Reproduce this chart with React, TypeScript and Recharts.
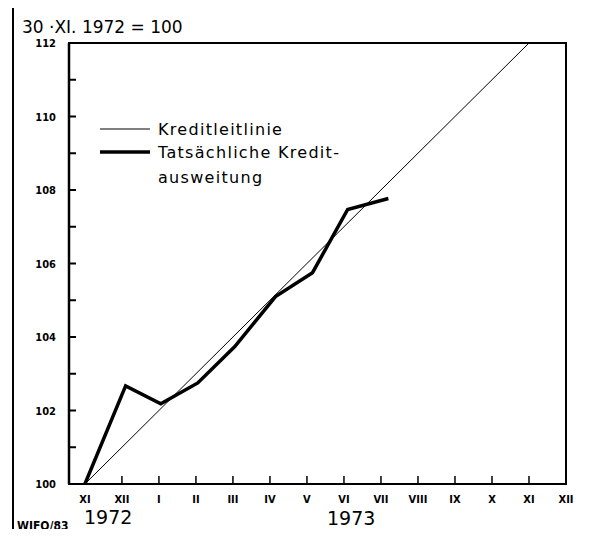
import React from "react";
import { LineChart, Line, XAxis, YAxis, ReferenceArea, Legend } from "recharts";

// month axis, XI 1972 .. XII 1973
const monthTicks = [0, 1, 2, 3, 4, 5, 6, 7, 8, 9, 10, 11, 12, 13];
const monthLabels = ["XI", "XII", "I", "II", "III", "IV", "V", "VI", "VII", "VIII", "IX", "X", "XI", "XII"];
const yTicks = [100, 101, 102, 103, 104, 105, 106, 107, 108, 109, 110, 111, 112];

// Kreditleitlinie (30.XI.1972 = 100 -> 112 a year later)
const guideX = [0, 12];
const guideY = [100, 112];

// Tatsächliche Kreditausweitung
const actualX = [0, 1.1, 2.05, 3.05, 4.05, 5.15, 6.15, 7.1, 8.2];
const actualY = [100, 102.67, 102.18, 102.75, 103.74, 105.1, 105.75, 107.47, 107.77];

const seriesNames = ["Kreditleitlinie", "Tatsächliche Kredit-ausweitung"];
const legendLines = [["Kreditleitlinie"], ["Tatsächliche Kredit-", "ausweitung"]];

const guideData = guideX.map((x, i) => ({ x, v: guideY[i] }));
const actualData = actualX.map((x, i) => ({ x, v: actualY[i] }));

const Y_MARGIN = 13;
const X_MARGIN = 10;
const tickFont = "'DejaVu Sans Condensed', 'DejaVu Sans', sans-serif";

// tick marks point into the plot, labels sit outside
const YTick = (props: any) => {
  const { x, y, payload } = props;
  const ax = x + Y_MARGIN;
  return (
    <g>
      <line x1={ax} x2={ax + 7} y1={y} y2={y} stroke="#000" strokeWidth={2} />
      {payload.value % 2 === 0 && (
        <text x={x} y={y} dy={4} textAnchor="end" fontSize={11} fontWeight="bold" fontFamily={tickFont} fill="#000">
          {payload.value}
        </text>
      )}
    </g>
  );
};

const XTick = (props: any) => {
  const { x, y, payload, index } = props;
  const ay = y - X_MARGIN;
  return (
    <g>
      {index > 0 && index < monthTicks.length - 1 && (
        <line x1={x} x2={x} y1={ay} y2={ay - 8} stroke="#000" strokeWidth={1.5} />
      )}
      <text x={x} y={y} dy={9} textAnchor="middle" fontSize={11} fontWeight="bold" fontFamily={tickFont} fill="#000">
        {monthLabels[payload.value]}
      </text>
    </g>
  );
};

const LegendBox = () => (
  <svg width={260} height={80}>
    {legendLines.map((lines, i) => (
      <g key={i}>
        <line x1={0} x2={50} y1={10 + i * 23} y2={10 + i * 23} stroke="#000" strokeWidth={i === 0 ? 1 : 3.5} />
        {lines.map((t, j) => (
          <text
            key={j}
            x={58}
            y={16 + i * 23 + j * 25}
            fontSize={16}
            letterSpacing={1.3}
            fontFamily="'DejaVu Sans', sans-serif"
            fill="#000"
          >
            {t}
          </text>
        ))}
      </g>
    ))}
  </svg>
);

export default function App() {
  return (
    <div style={{ position: "relative", width: 596, height: 537, margin: -8, background: "#fff" }}>
      <LineChart width={596} height={537} margin={{ top: 43, right: 30, bottom: 23, left: 13 }}>
        <XAxis
          type="number"
          dataKey="x"
          domain={[-0.43, 13]}
          allowDataOverflow
          ticks={monthTicks}
          interval={0}
          height={30}
          tickSize={0}
          tickMargin={X_MARGIN}
          tickLine={false}
          axisLine={{ stroke: "#000", strokeWidth: 2 }}
          tick={<XTick />}
        />
        <YAxis
          type="number"
          domain={[100, 112]}
          allowDataOverflow
          ticks={yTicks}
          interval={0}
          width={56}
          tickSize={0}
          tickMargin={Y_MARGIN}
          tickLine={false}
          axisLine={{ stroke: "#000", strokeWidth: 2.5 }}
          tick={<YTick />}
        />
        <ReferenceArea x1={-0.43} x2={13} y1={100} y2={112} fill="none" stroke="#000" strokeWidth={2} ifOverflow="visible" />
        <Legend
          layout="horizontal"
          verticalAlign="middle"
          align="center"
          content={<LegendBox />}
          wrapperStyle={{ position: "absolute", left: 100, top: 119, width: 260 }}
        />
        <Line
          data={guideData}
          dataKey="v"
          name={seriesNames[0]}
          stroke="#000"
          strokeWidth={1}
          dot={false}
          isAnimationActive={false}
        />
        <Line
          data={actualData}
          dataKey="v"
          name={seriesNames[1]}
          stroke="#000"
          strokeWidth={3.5}
          strokeLinejoin="miter"
          dot={false}
          isAnimationActive={false}
        />
      </LineChart>
      <svg width={596} height={537} style={{ position: "absolute", left: 0, top: 0, pointerEvents: "none" }}>
        <line x1={13} x2={13} y1={4} y2={537} stroke="#000" strokeWidth={2} />
        <line x1={12} x2={596} y1={5} y2={5} stroke="#000" strokeWidth={3} />
        <text x={22} y={33} fontSize={17} fontFamily="'DejaVu Sans', sans-serif" fill="#000">
          30 ·XI. 1972 = 100
        </text>
        <text x={84} y={524} fontSize={19} fontFamily="'DejaVu Sans', sans-serif" fill="#000">1972</text>
        <text x={327} y={525} fontSize={19} fontFamily="'DejaVu Sans', sans-serif" fill="#000">1973</text>
        <text x={17} y={530} fontSize={12} fontWeight="bold" fontFamily={tickFont} fill="#000">WIFO/83</text>
      </svg>
    </div>
  );
}
